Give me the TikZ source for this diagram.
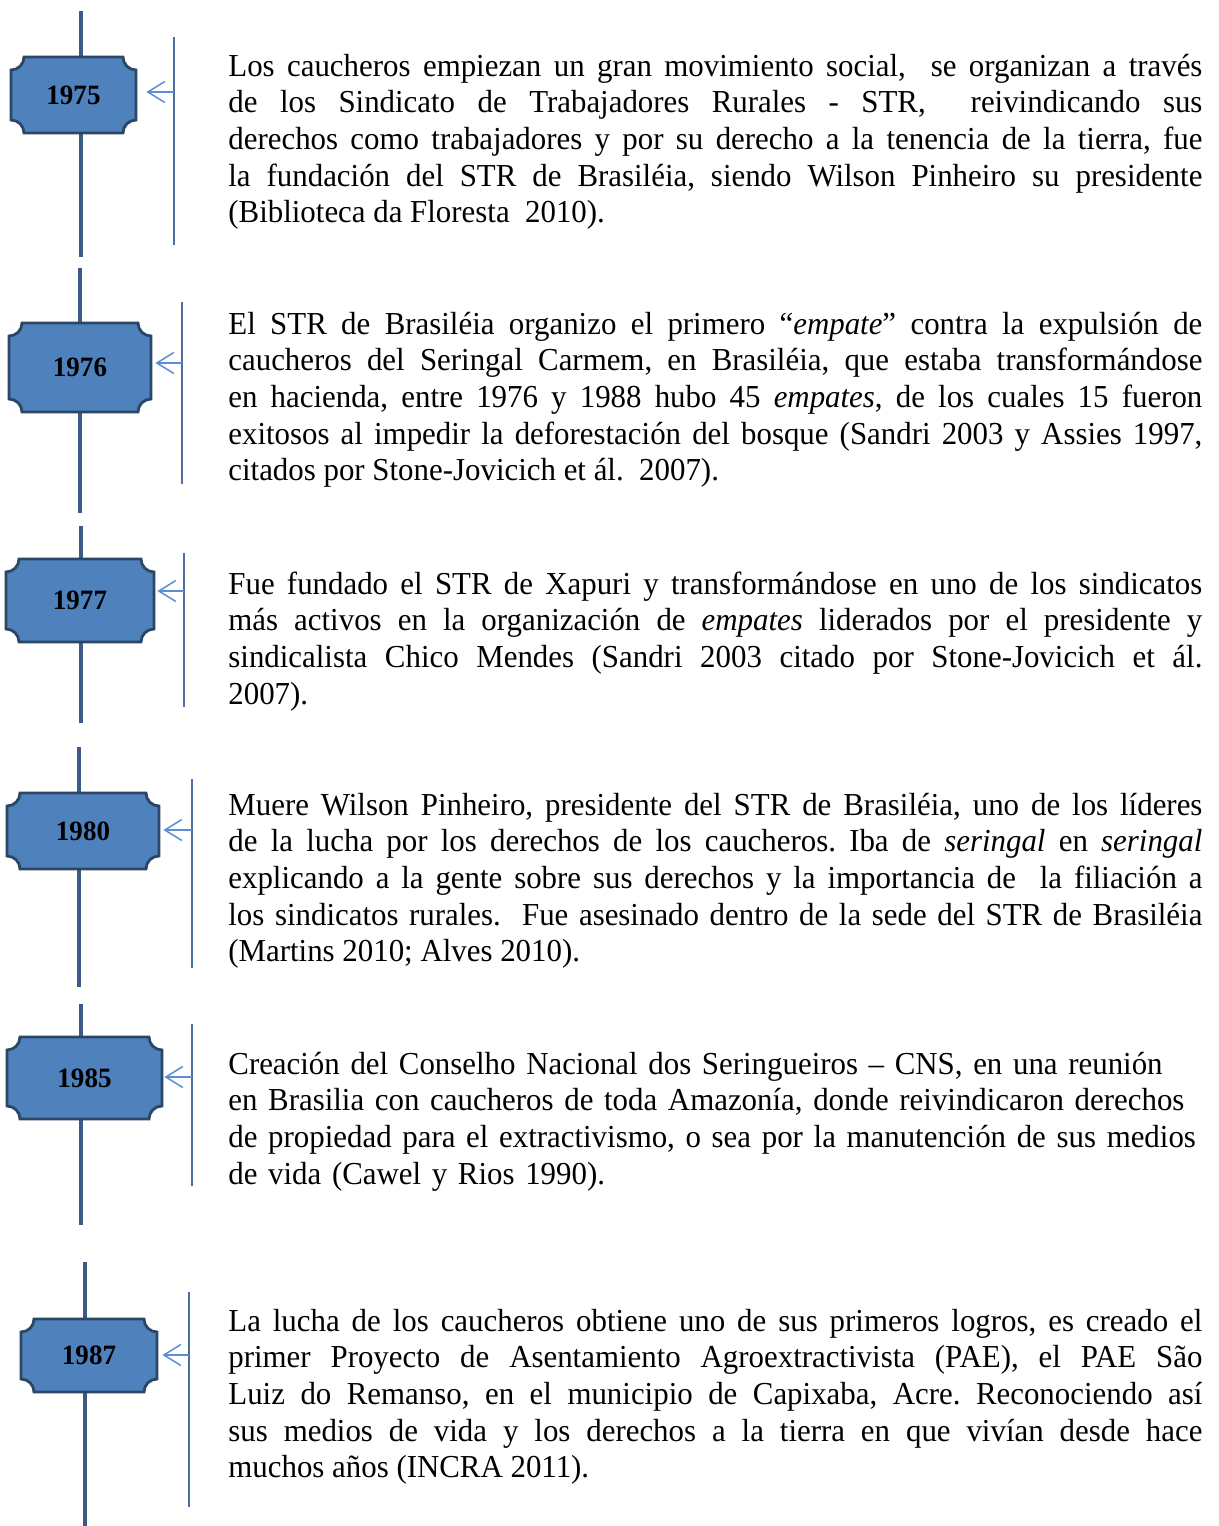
\documentclass[tikz,border=0pt]{standalone}
\usepackage{fontspec}
\setmainfont{Liberation Serif}[FakeStretch=0.965]
\usetikzlibrary{arrows.meta}

\definecolor{trunkblue}{HTML}{3B5B86}
\definecolor{railblue}{HTML}{4B6F9F}
\definecolor{boxfill}{HTML}{4F81BD}
\definecolor{boxedge}{HTML}{2A4766}
\definecolor{tipblue}{HTML}{5B8ED4}

\frenchspacing
\hyphenpenalty=10000
\tolerance=10000

\tikzset{
    trunk/.style={draw=trunkblue, line width=1.7pt},
    rail/.style={draw=railblue, line width=1pt},
    plaqueline/.style={draw=boxedge, fill=boxfill, line width=1.4pt},
    yearlbl/.style={inner sep=0pt, font=\fontsize{14}{15}\selectfont\bfseries},
    pointer/.style={draw=tipblue, line width=0.75pt, -{Straight Barb[length=8.5pt,width=10.5pt]}},
    story/.style={anchor=base west, inner sep=0pt, text width=487pt, align=justify,
        font=\fontsize{16}{18.35}\selectfont},
}

% plaque with hollow corners: centre x, centre y, half width, half height
\newcommand{\plaque}[4]{%
    \draw[plaqueline] ({#1-#3+13},{#2-#4}) -- ({#1+#3-13},{#2-#4})
        arc[start angle=180, end angle=270, radius=6.5pt]
        -- ({#1+#3},{#2+#4-13}) arc[start angle=90, end angle=180, radius=6.5pt]
        -- ({#1-#3+13},{#2+#4}) arc[start angle=0, end angle=90, radius=6.5pt]
        -- ({#1-#3},{#2-#4+13}) arc[start angle=270, end angle=360, radius=6.5pt]
        -- cycle;
}

\begin{document}
\begin{tikzpicture}[x=0.5pt,y=-0.5pt]
    \useasboundingbox (0,0) rectangle (1219,1526);
    % year / trunk x,top,bottom / box cx,cy,hw,hh / rail x,top,bottom / arrow y / gap
    \foreach \yr/\lx/\lt/\lb/\cx/\cy/\hw/\hh/\rx/\rt/\rb/\ay/\gap in {
        1975/81/11/257/73.5/95/62.5/38/174/37/245/92/10,
        1976/80/268/513/80/367.5/71/44.5/182/302/484/363/4,
        1977/81/526/723/80/600.5/74/41.5/184/553/707/591/3,
        1980/79/747/987/83/831/76/38/192/779/968/830/4,
        1985/81/1004/1225/84.5/1078/77.5/41/192/1024/1186/1077/2,
        1987/85/1262/1526/89/1355.5/68/36.5/189/1292/1507/1355/5} {
        \coordinate (lt\yr) at (\lx,\lt);
        \coordinate (lb\yr) at (\lx,\lb);
        \draw[trunk] (lt\yr) -- (lb\yr);
        \plaque{\cx}{\cy}{\hw}{\hh}
        \node[yearlbl, minimum width={\hw*1pt}, minimum height={\hh*1pt}] (y\yr) at (\cx,\cy) {\yr};
        \coordinate (rt\yr) at (\rx,\rt);
        \coordinate (rb\yr) at (\rx,\rb);
        \draw[rail] (rt\yr) -- (rb\yr);
        \coordinate (a\yr) at (\rx,\ay);
        \draw[pointer, shorten >={\gap*0.5pt}] (a\yr) -- (a\yr -| y\yr.east);
    }

    \node[story] (t1975) at (228,76) {Los caucheros empiezan un gran movimiento social,\ \ se organizan a través\linebreak
        de los Sindicato de Trabajadores Rurales - STR,\ \ reivindicando sus\linebreak
        derechos como trabajadores y por su derecho a la tenencia de la tierra, fue\linebreak
        la fundación del STR de Brasiléia, siendo Wilson Pinheiro su presidente\linebreak
        (Biblioteca da Floresta\ \ 2010).};
    \node[story] (t1976) at (228,334) {El STR de Brasiléia organizo el primero “\emph{empate}” contra la expulsión de\linebreak
        caucheros del Seringal Carmem, en Brasiléia, que estaba transformándose\linebreak
        en hacienda, entre 1976 y 1988 hubo 45 \emph{empates}, de los cuales 15 fueron\linebreak
        exitosos al impedir la deforestación del bosque (Sandri 2003 y Assies 1997,\linebreak
        citados por Stone-Jovicich et ál.\ \ 2007).};
    \node[story] (t1977) at (228,594) {Fue fundado el STR de Xapuri y transformándose en uno de los sindicatos\linebreak
        más activos en la organización de \emph{empates} liderados por el presidente y\linebreak
        sindicalista Chico Mendes (Sandri 2003 citado por Stone-Jovicich et ál.\linebreak
        2007).};
    \node[story] (t1980) at (228,815) {Muere Wilson Pinheiro, presidente del STR de Brasiléia, uno de los líderes\linebreak
        de la lucha por los derechos de los caucheros. Iba de \emph{seringal} en \emph{seringal}\linebreak
        explicando a la gente sobre sus derechos y la importancia de\ \ la filiación a\linebreak
        los sindicatos rurales.\ \ Fue asesinado dentro de la sede del STR de Brasiléia\linebreak
        (Martins 2010; Alves 2010).};
    \node[story, align=left] (t1985) at (228,1074) {Creación del Conselho Nacional dos Seringueiros -- CNS, en una reunión\\
        en Brasilia con caucheros de toda Amazonía, donde reivindicaron derechos\\
        de propiedad para el extractivismo, o sea por la manutención de sus medios\\
        de vida (Cawel y Rios 1990).};
    \node[story] (t1987) at (228,1331) {La lucha de los caucheros obtiene uno de sus primeros logros, es creado el\linebreak
        primer Proyecto de Asentamiento Agroextractivista (PAE), el PAE São\linebreak
        Luiz do Remanso, en el municipio de Capixaba, Acre. Reconociendo así\linebreak
        sus medios de vida y los derechos a la tierra en que vivían desde hace\linebreak
        muchos años (INCRA 2011).};
\end{tikzpicture}
\end{document}
